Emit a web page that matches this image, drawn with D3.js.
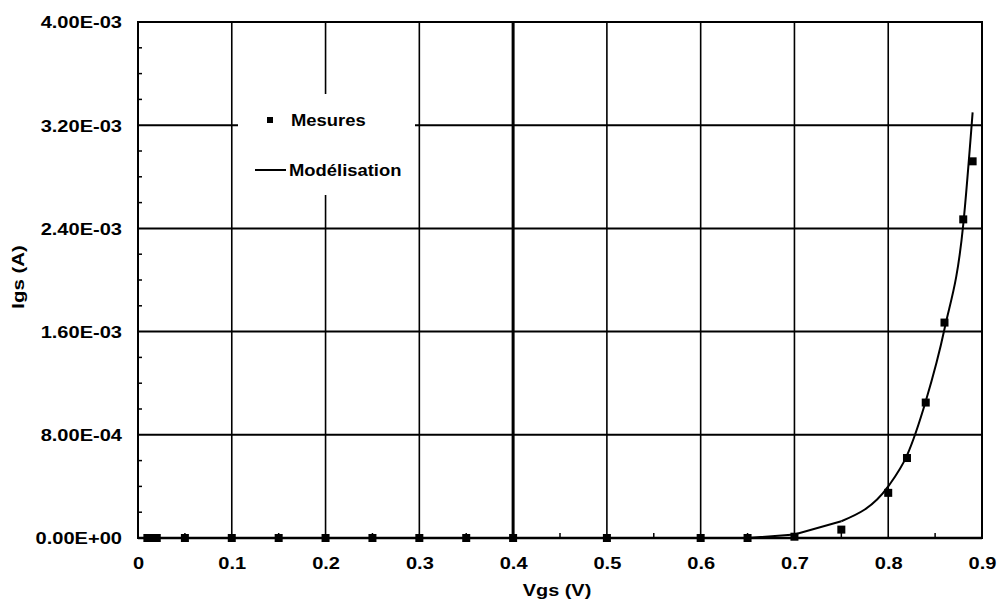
<!DOCTYPE html>
<html><head><meta charset="utf-8">
<script src="https://cdn.jsdelivr.net/npm/d3@7"></script>
<style>body{margin:0;background:#fff}svg{display:block}text{font-family:"Liberation Sans",Arial,sans-serif;font-weight:bold;fill:#000}</style>
</head><body>
<svg id="chart" width="1000" height="600"></svg>
<script>
// ---- data ----
const measV = [0.01,0.015,0.02,0.05,0.1,0.15,0.2,0.25,0.3,0.35,0.4,0.5,0.6,0.65,0.7,0.75,0.8,0.82,0.84,0.86,0.88,0.89];
const measI = [0,0,0,0,0,0,0,0,0,0,0,0,0,0,1.0e-5,6.5e-5,3.5e-4,6.2e-4,1.05e-3,1.67e-3,2.47e-3,2.92e-3];
const modelV = [0,0.1,0.2,0.3,0.4,0.5,0.6,0.65,0.7,0.75,0.8,0.82,0.84,0.86,0.88,0.89];
const modelI = [0,0,0,0,0,0,0,0,2.7e-5,1.3e-4,4.0e-4,6.4e-4,1.06e-3,1.62e-3,2.43e-3,3.3e-3];
const xTicks = [0,0.1,0.2,0.3,0.4,0.5,0.6,0.7,0.8,0.9];
const xTickLabels = ["0","0.1","0.2","0.3","0.4","0.5","0.6","0.7","0.8","0.9"];
const yTicks = [0,8e-4,1.6e-3,2.4e-3,3.2e-3,4e-3];
const xMinor = [0.05,0.15,0.25,0.35,0.45,0.55,0.65,0.75,0.85];
const yMinor = [2e-4,4e-4,6e-4,1.0e-3,1.2e-3,1.4e-3,1.8e-3,2.0e-3,2.2e-3,2.6e-3,2.8e-3,3.0e-3,3.4e-3,3.6e-3,3.8e-3];
const legendLabels = ["Mesures","Modélisation"];
const xTitle = "Vgs (V)", yTitle = "Igs (A)";

// ---- layout ----
const L = 138, R = 982, T = 22, B = 538;
const svg = d3.select("#chart");
const x = d3.scaleLinear().domain([0,0.9]).range([L,R]);
const y = d3.scaleLinear().domain([0,4e-3]).range([B,T]);

function fmtE(v){
  if (v === 0) return "0.00E+00";
  const e = Math.floor(Math.log10(v) + 1e-9);
  const m = v / Math.pow(10,e);
  return m.toFixed(2) + "E" + (e<0?"-":"+") + String(Math.abs(e)).padStart(2,"0");
}

// gridlines
const g = svg.append("g");
g.selectAll(".hg").data(yTicks.slice(1,-1)).join("line")
  .attr("x1",L).attr("x2",R).attr("y1",d=>y(d)).attr("y2",d=>y(d))
  .attr("stroke","#000").attr("stroke-width",2);
g.selectAll(".vg").data(xTicks.slice(1,-1)).join("line")
  .attr("x1",d=>x(d)).attr("x2",d=>x(d)).attr("y1",T).attr("y2",B)
  .attr("stroke","#000").attr("stroke-width",d=>Math.abs(d-0.4)<1e-9?3:1.6);

// legend background
svg.append("rect").attr("x",238).attr("y",94).attr("width",177).attr("height",101).attr("fill","#fff");

// frame
svg.append("rect").attr("x",L).attr("y",T).attr("width",R-L).attr("height",B-T)
  .attr("fill","none").attr("stroke","#000").attr("stroke-width",2);
svg.append("line").attr("x1",L).attr("x2",R).attr("y1",B).attr("y2",B).attr("stroke","#000").attr("stroke-width",2.5);

// minor ticks
svg.selectAll(".ym").data(yMinor).join("line")
  .attr("x1",L).attr("x2",L+4).attr("y1",d=>y(d)).attr("y2",d=>y(d)).attr("stroke","#000").attr("stroke-width",1.5);
svg.selectAll(".xm").data(xMinor).join("line")
  .attr("x1",d=>x(d)).attr("x2",d=>x(d)).attr("y1",B).attr("y2",B-5).attr("stroke","#000").attr("stroke-width",1.5);

// axes labels via d3 axes
const SX = 1.18;
const ya = svg.append("g").attr("transform",`translate(${L},0)`)
  .call(d3.axisLeft(y).tickValues(yTicks).tickFormat(fmtE).tickSize(0).tickPadding(16));
ya.select(".domain").remove();
ya.selectAll("text").attr("font-size",17).attr("x",-16/SX).attr("transform",`scale(${SX},1)`)
  .style("font-family",'"Liberation Sans",Arial,sans-serif').style("font-weight","bold").attr("dy","0.35em");

const xa = svg.append("g").attr("transform",`translate(0,${B})`)
  .call(d3.axisBottom(x).tickValues(xTicks).tickFormat((d,i)=>xTickLabels[i]).tickSize(0).tickPadding(19));
xa.select(".domain").remove();
xa.selectAll("text").attr("font-size",17).attr("transform",`scale(${SX},1)`)
  .style("font-family",'"Liberation Sans",Arial,sans-serif').style("font-weight","bold");

// titles
svg.append("text").attr("transform","translate(18,277) rotate(-90) scale(1.2,1)")
  .attr("text-anchor","middle").attr("dominant-baseline","central").attr("font-size",17).text(yTitle);
svg.append("text").attr("transform","translate(557,596) scale(1.17,1)")
  .attr("text-anchor","middle").attr("font-size",17).text(xTitle);

// model line: linear up to 0.75, smooth afterwards
const pts = modelV.map((v,i)=>[v,modelI[i]]);
const k = modelV.indexOf(0.75);
const lin = d3.line().x(d=>x(d[0])).y(d=>y(d[1]));
svg.append("path").attr("d",lin(pts.slice(0,k+1))).attr("fill","none").attr("stroke","#000").attr("stroke-width",2);
svg.append("path").attr("d",lin.curve(d3.curveMonotoneX)(pts.slice(k))).attr("fill","none").attr("stroke","#000").attr("stroke-width",2);

// measured markers
const ms = 8;
svg.selectAll(".mk").data(measV.map((v,i)=>[v,measI[i]])).join("rect")
  .attr("x",d=>x(d[0])-ms/2).attr("y",d=>y(d[1])-ms/2).attr("width",ms).attr("height",ms).attr("fill","#000");

// legend
svg.append("rect").attr("x",267).attr("y",117).attr("width",6).attr("height",6).attr("fill","#000");
svg.append("text").attr("transform","translate(291,120) scale(1.15,1)").attr("dominant-baseline","central")
  .attr("font-size",16).text(legendLabels[0]);
svg.append("line").attr("x1",255).attr("x2",286).attr("y1",170).attr("y2",170).attr("stroke","#000").attr("stroke-width",2);
svg.append("text").attr("transform","translate(289,170) scale(1.15,1)").attr("dominant-baseline","central")
  .attr("font-size",16).text(legendLabels[1]);
</script>
</body></html>
